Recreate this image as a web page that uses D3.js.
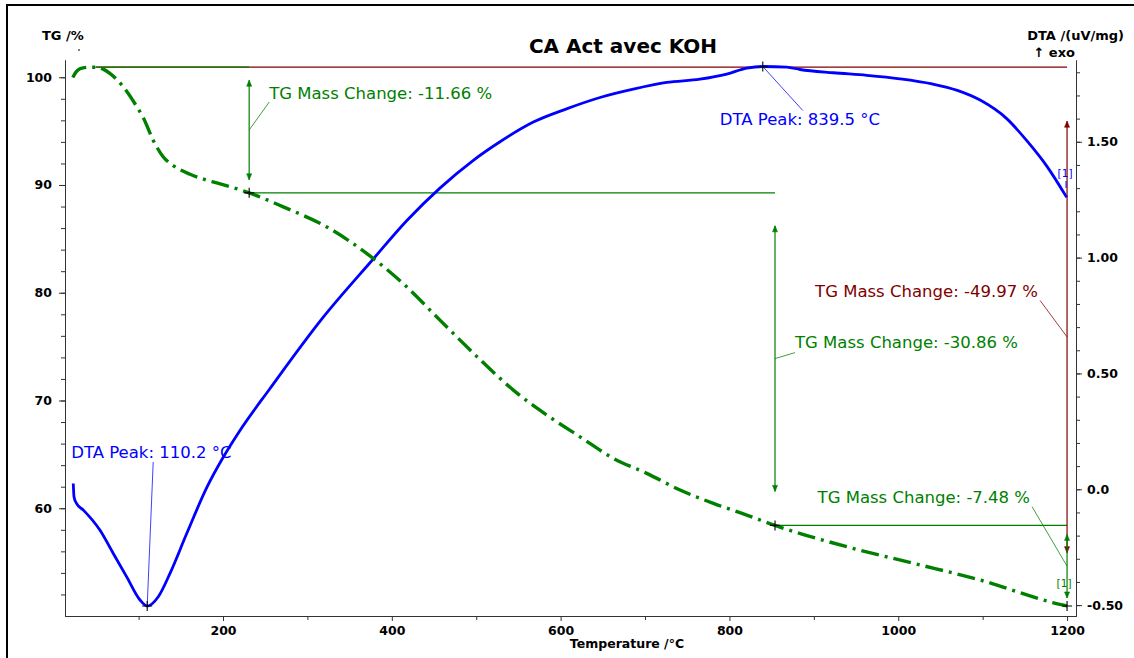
<!DOCTYPE html>
<html>
<head>
<meta charset="utf-8">
<script src="https://cdn.jsdelivr.net/npm/d3@7"></script>
<style>
  body { margin: 0; background: #fff; }
  svg { display: block; }
  .tick text { font-family: "DejaVu Sans", sans-serif; font-weight: bold; font-size: 12.5px; fill: #000; }
</style>
</head>
<body>
<svg id="chart" width="1134" height="658"></svg>
<script>
// ---- TG curve (mass %, vs temperature °C) ----
const tgTemp = [22, 26, 30.8, 40, 48.5, 58, 66.3, 82, 98, 106, 117.2, 129.3, 141, 161, 180.7, 192.5, 210, 231,
  271.4, 322.9, 378, 417.6, 457, 504.5, 544, 583.6, 623, 662.5, 702, 741.5, 781, 820.5, 854,
  939, 1018, 1097, 1183, 1200];
const tgMass = [99.97, 100.5, 100.8, 100.92, 100.93, 100.75, 100.34, 99.1, 97.25, 96.17, 94.16, 92.6, 91.8, 91.0, 90.45, 90.2, 89.8, 89.27,
  87.97, 86.11, 83.18, 80.55, 77.46, 73.8, 70.96, 68.65, 66.63, 64.63, 63.24, 61.69, 60.45, 59.37, 58.41,
  56.43, 54.89, 53.34, 51.25, 50.93];

// ---- DTA curve (uV/mg, vs temperature °C) ----
const dtaTemp = [22.6, 23.5, 26.6, 34.6, 54.3, 70, 85.9, 101.7, 110.2, 123.3, 137.2, 157, 181, 200.4, 220.1, 255.7, 318.8, 378,
  417.6, 457, 496.6, 528.2, 567.7, 607, 646.7, 686, 725.7, 765, 796.8, 820.5, 839.5, 867.9, 883.6, 923, 962.7,
  1002, 1040, 1070, 1097, 1128.5, 1152.3, 1176, 1199.6];
const dtaSignal = [0.025, -0.033, -0.062, -0.09, -0.177, -0.277, -0.378, -0.478, -0.504, -0.464, -0.363, -0.191, 0.009, 0.139, 0.254, 0.435, 0.743, 0.994,
  1.159, 1.300, 1.420, 1.500, 1.585, 1.642, 1.691, 1.727, 1.756, 1.770, 1.792, 1.818, 1.825, 1.822, 1.812, 1.798, 1.787,
  1.772, 1.750, 1.722, 1.680, 1.600, 1.505, 1.395, 1.26];

// ---- axis ticks ----
const tempTicks = [200, 400, 600, 800, 1000, 1200];
const tempMinorTicks = [100, 300, 500, 700, 900, 1100];
const tgTicks = [60, 70, 80, 90, 100];
const tgMinorTicks = d3.range(52, 101, 2);
const dtaTicks = [-0.5, 0, 0.5, 1.0, 1.5];
const dtaTickLabels = ["-0.50", "0.0", "0.50", "1.00", "1.50"];
const dtaMinorTicks = d3.range(-5, 19).map(v => v / 10);

// ---- evaluation results ----
const stepStartTemp = 49;            // start of the mass-loss evaluation
const stepTemps = [231, 854, 1200];  // end of each mass-change step
const startMass = 100.93;
const stepChanges = [-11.66, -30.86, -7.48];
const totalChange = -49.97;
const peakTemps = [110.2, 839.5];
const peakSignals = [-0.504, 1.825];

const svg = d3.select("#chart");
const FONT = '"DejaVu Sans", sans-serif';
const GREEN = "#008000", BLUE = "#0000ff", RED = "#800000";

const x = d3.scaleLinear().domain([12.8, 1210.6]).range([65, 1076]);
const yTG = d3.scaleLinear().domain([50, 101.6]).range([616, 60]);
const yDTA = d3.scaleLinear().domain([-0.547, 1.853]).range([616, 60]);

// outer frame
svg.append("path").attr("d", "M7,658 V5 H1134").attr("fill", "none").attr("stroke", "#000").attr("stroke-width", 2);

// axes
function styleAxis(g) {
  g.select(".domain").attr("stroke", "#333");
  g.selectAll(".tick line").attr("stroke", "#333");
}
svg.append("g").attr("transform", "translate(65,0)")
  .call(d3.axisLeft(yTG).tickValues(tgMinorTicks).tickSize(4).tickSizeOuter(0).tickFormat(""))
  .call(styleAxis);
svg.append("g").attr("transform", "translate(65,0)")
  .call(d3.axisLeft(yTG).tickValues(tgTicks).tickSize(6).tickSizeOuter(0).tickPadding(7).tickFormat(d3.format("d")))
  .call(styleAxis);

svg.append("g").attr("transform", "translate(1076,0)")
  .call(d3.axisRight(yDTA).tickValues(dtaMinorTicks).tickSize(4).tickSizeOuter(0).tickFormat(""))
  .call(styleAxis);
svg.append("g").attr("transform", "translate(1076,0)")
  .call(d3.axisRight(yDTA).tickValues(dtaTicks).tickSize(6).tickSizeOuter(0).tickPadding(5)
    .tickFormat((d, i) => dtaTickLabels[i]))
  .call(styleAxis);

svg.append("g").attr("transform", "translate(0,616)")
  .call(d3.axisBottom(x).tickValues(tempMinorTicks).tickSize(4).tickSizeOuter(0).tickFormat(""))
  .call(styleAxis);
svg.append("g").attr("transform", "translate(0,616)")
  .call(d3.axisBottom(x).tickValues(tempTicks).tickSize(5).tickSizeOuter(0).tickPadding(5).tickFormat(d3.format("d")))
  .call(styleAxis);

// axis titles and chart title
const bold = (sel, size) => sel.attr("font-family", FONT).attr("font-weight", "bold").attr("font-size", size).attr("fill", "#000");
svg.append("text").attr("x", 623).attr("y", 53).attr("text-anchor", "middle").text("CA Act avec KOH").call(bold, 20);
svg.append("text").attr("x", 42).attr("y", 40).text("TG /%").call(bold, 13);
svg.append("circle").attr("cx", 79).attr("cy", 50).attr("r", 0.9).attr("fill", "#444");
svg.append("text").attr("x", 1124).attr("y", 40).attr("text-anchor", "end").text("DTA /(uV/mg)").call(bold, 13);
svg.append("text").attr("x", 1075).attr("y", 57).attr("text-anchor", "end").text("\u2191 exo").call(bold, 13);
svg.append("text").attr("x", 627).attr("y", 648).attr("text-anchor", "middle").text("Temperature /\u00b0C").call(bold, 12.5);

// ---- evaluation lines ----
const levels = [startMass];
stepChanges.forEach((c, i) => levels.push(+(levels[i] + c).toFixed(2)));
const stepBounds = [stepStartTemp].concat(stepTemps);

const hline = (t0, t1, v, color) => svg.append("line")
  .attr("x1", x(t0)).attr("x2", x(t1)).attr("y1", yTG(v)).attr("y2", yTG(v))
  .attr("stroke", color).attr("stroke-width", 1.2);

// total mass-change reference line
hline(stepStartTemp, 1200, startMass, RED);
// per-step reference lines
hline(stepBounds[0], stepBounds[1], levels[0], GREEN);
hline(stepBounds[1], stepBounds[2], levels[1], GREEN);
hline(stepBounds[2], stepBounds[3], levels[2], GREEN);

function arrowHead(px, py, dir, color) {
  // dir = -1 points up, +1 points down
  svg.append("path")
    .attr("d", `M${px - 2.5},${py - dir * 6} L${px},${py} L${px + 2.5},${py - dir * 6} Z`)
    .attr("fill", color).attr("stroke", color).attr("stroke-width", 0.6);
}

function massArrow(t, vTop, vBottom, insetTop, insetBottom, color) {
  const px = x(t);
  const y0 = yTG(vTop) + insetTop, y1 = yTG(vBottom) - insetBottom;
  svg.append("line").attr("x1", px).attr("x2", px).attr("y1", y0).attr("y2", y1)
    .attr("stroke", color).attr("stroke-width", 1.2);
  arrowHead(px, y0, -1, color);
  arrowHead(px, y1, 1, color);
  return { x: px, y: (y0 + y1) / 2 };
}

function callout(anchor, lx, ly, tx, ty, align, label, color) {
  svg.append("line").attr("x1", anchor.x).attr("y1", anchor.y)
    .attr("x2", anchor.x + lx).attr("y2", anchor.y + ly)
    .attr("stroke", color).attr("stroke-width", 1).attr("opacity", 0.75);
  svg.append("text").attr("x", anchor.x + tx).attr("y", anchor.y + ty)
    .attr("text-anchor", align)
    .attr("font-family", FONT).attr("font-size", 16.5).attr("fill", color)
    .text(label);
}

const fmtChange = c => `TG Mass Change: ${c.toFixed(2)} %`;

// total mass change (red)
const totalAnchor = massArrow(1200, startMass, startMass + totalChange, 54, 53, RED);
callout(totalAnchor, -27, -36.5, -29, -39.5, "end", fmtChange(totalChange), RED);

// step arrows (green)
const a1 = massArrow(stepBounds[1], levels[0], levels[1], 13, 13, GREEN);
callout(a1, 20, -28, 20, -31, "start", fmtChange(stepChanges[0]), GREEN);
const a2 = massArrow(stepBounds[2], levels[1], levels[2], 33, 34, GREEN);
callout(a2, 20, -6, 20, -11, "start", fmtChange(stepChanges[1]), GREEN);
const a3 = massArrow(stepBounds[3], levels[2], levels[3], 9, 8, GREEN);
callout(a3, -35, -59.5, -37, -63.5, "end", fmtChange(stepChanges[2]), GREEN);

// ---- curves ----
const tgData = tgTemp.map((t, i) => [t, tgMass[i]]);
const dtaData = dtaTemp.map((t, i) => [t, dtaSignal[i]]);

svg.append("path").datum(dtaData)
  .attr("fill", "none").attr("stroke", BLUE).attr("stroke-width", 2.8).attr("stroke-linejoin", "round")
  .attr("d", d3.line().x(d => x(d[0])).y(d => yDTA(d[1])).curve(d3.curveMonotoneX));

svg.append("path").datum(tgData)
  .attr("fill", "none").attr("stroke", GREEN).attr("stroke-width", 3.4)
  .attr("stroke-dasharray", "18,6,3,6")
  .attr("d", d3.line().x(d => x(d[0])).y(d => yTG(d[1])).curve(d3.curveMonotoneX));

// crosshair markers
const cross = (px, py) => svg.append("path")
  .attr("d", `M${px - 5},${py} H${px + 5} M${px},${py - 5} V${py + 5}`)
  .attr("stroke", "#000").attr("stroke-width", 1.1);
stepTemps.forEach((t, i) => cross(x(t), yTG(levels[i + 1])));

// DTA peaks
const peakOffsets = [[6, -144, -76, -148], [40, 44, -43, 59]];
peakTemps.forEach((t, i) => {
  const p = { x: x(t), y: yDTA(peakSignals[i]) };
  const [lx, ly, tx, ty] = peakOffsets[i];
  callout(p, lx, ly, tx, ty, "start", `DTA Peak: ${t.toFixed(1)} \u00b0C`, BLUE);
  cross(p.x, p.y);
});

// segment end flags
const endFlag = (px, py, color) => {
  svg.append("text").attr("x", px).attr("y", py).attr("text-anchor", "middle")
    .attr("font-family", FONT).attr("font-size", 10.5).attr("fill", color).text("[1]");
};
endFlag(x(1200) - 2, 177, BLUE);
svg.append("line").attr("x1", x(1200) - 1).attr("x2", x(1200) - 1).attr("y1", 181).attr("y2", 188)
  .attr("stroke", BLUE).attr("stroke-width", 1);
endFlag(x(1200) - 3, 587, GREEN);
</script>
</body>
</html>
